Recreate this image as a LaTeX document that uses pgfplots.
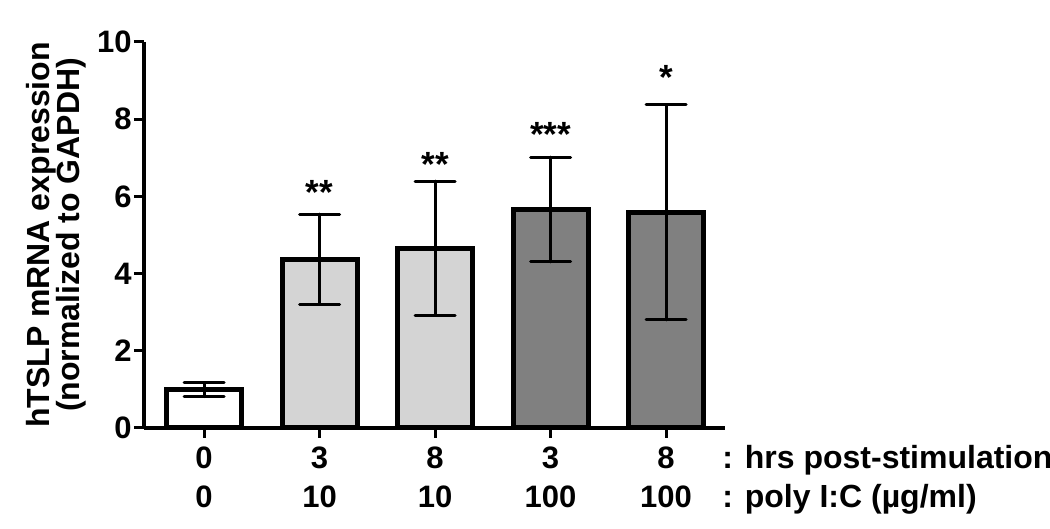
\documentclass[border=0pt]{standalone}
\usepackage{fontspec}
\setmainfont{Liberation Sans}
\usepackage{pgfplots}
\pgfplotsset{compat=1.18}
\definecolor{lightbar}{HTML}{D4D4D4}
\definecolor{darkbar}{HTML}{808080}

\begin{document}
\begin{tikzpicture}
\begin{axis}[
  name=ax,
  scale only axis,
  width=290.5pt, height=193pt,
  clip=false,
  axis lines=left,
  axis line style={-, line width=1.6pt},
  xmin=-0.52, xmax=4.51,
  ymin=0, ymax=10,
  ytick={0,2,...,10},
  xtick={0,...,4},
  xticklabels={0,3,8,3,8},
  extra x ticks={0,...,4},
  extra x tick labels={0,10,10,100,100},
  extra x tick style={xticklabel style={yshift=-19.5pt}},
  tick align=outside,
  major tick length=5pt,
  tick style={black, line width=1.5pt},
  /pgf/number format/assume math mode=true,
  ticklabel style={font=\bfseries\fontsize{15.5}{17}\selectfont},
  yticklabel style={inner sep=1pt},
  xticklabel style={anchor=base, yshift=-15.5pt},
  ylabel={hTSLP mRNA expression\\(normalized to GAPDH)},
  ylabel style={align=center, font=\bfseries\fontsize{16}{15}\selectfont, yshift=1pt},
  ybar, bar width=0.65, bar shift=0pt,
  error bars/y dir=both, error bars/y explicit,
  error bars/error bar style={line width=1.5pt, black, line cap=round},
  error bars/error mark options={rotate=90, mark size=10pt, line width=1.5pt, line cap=round},
]
\addplot[fill=white, draw=black, line width=2.5pt]
  coordinates {(0,0.99) +- (0,0.18)};
\addplot[fill=lightbar, draw=black, line width=2.5pt]
  coordinates {(1,4.37) +- (0,1.17) (2,4.66) +- (0,1.735)};
\addplot[fill=darkbar, draw=black, line width=2.5pt]
  coordinates {(3,5.66) +- (0,1.355) (4,5.59) +- (0,2.79)};

% significance marks
\node[font=\bfseries\fontsize{17.5}{17.5}\selectfont] at (axis cs:1,6.10) {**};
\node[font=\bfseries\fontsize{17.5}{17.5}\selectfont] at (axis cs:2,6.82) {**};
\node[font=\bfseries\fontsize{17.5}{17.5}\selectfont] at (axis cs:3,7.60) {***};
\node[font=\bfseries\fontsize{17.5}{17.5}\selectfont] at (axis cs:4,9.08) {*};

\node[anchor=base west, inner sep=0pt, xshift=-1.5pt, yshift=-20.5pt, font=\bfseries\fontsize{16}{17}\selectfont]
  at (rel axis cs:1,0) {: hrs post-stimulation};
\node[anchor=base west, inner sep=0pt, xshift=-1.5pt, yshift=-40pt, font=\bfseries\fontsize{16}{17}\selectfont]
  at (rel axis cs:1,0) {: poly I:C (µg/ml)};
\end{axis}
\pgfresetboundingbox
\path (ax.south west) ++(-72pt,-50.5pt) rectangle ++(525pt,264.5pt);
\end{tikzpicture}
\end{document}
